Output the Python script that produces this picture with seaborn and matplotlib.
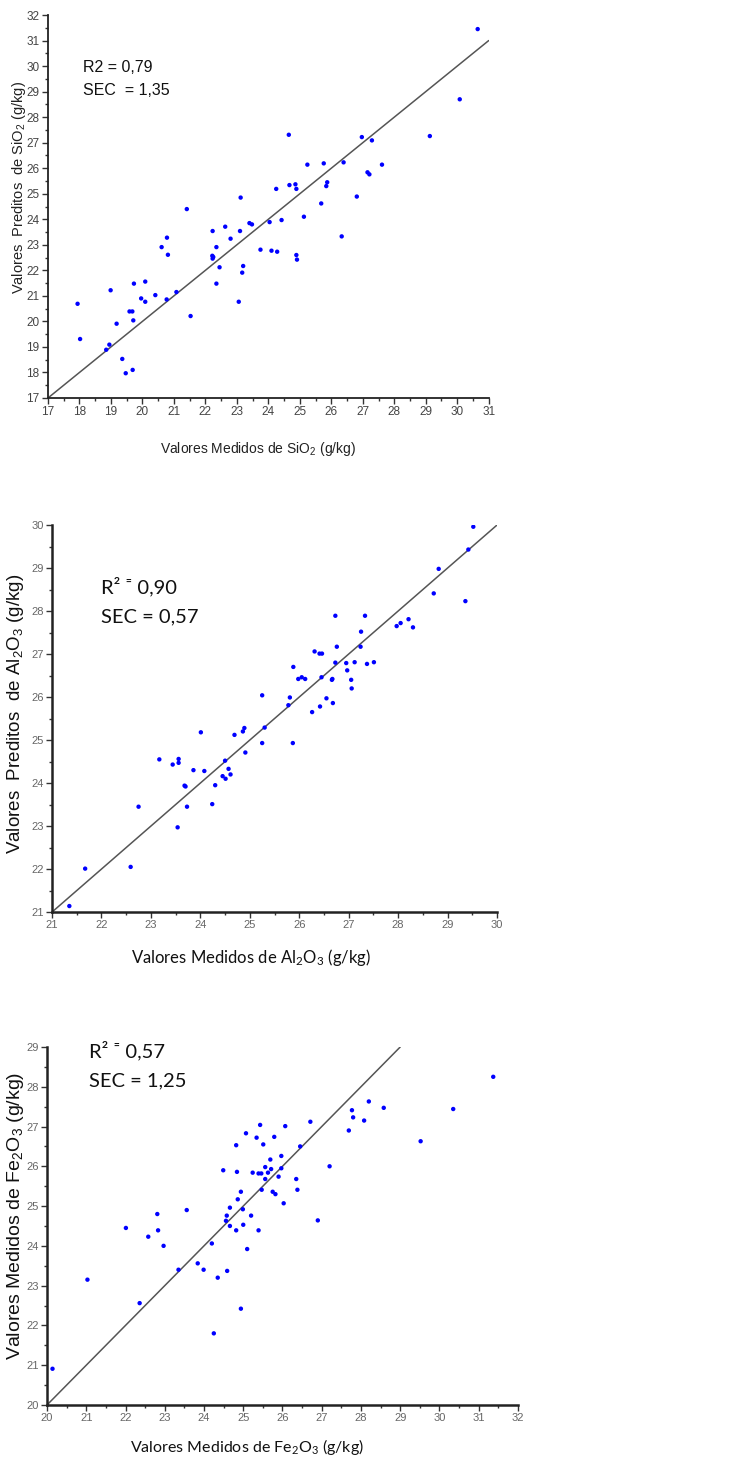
import numpy as np
import pandas as pd
import seaborn as sns
import matplotlib.pyplot as plt
from matplotlib.ticker import MultipleLocator

# SiO2 panel (measured, predicted)
sio2_med = [30.65, 30.08, 29.13, 24.65, 26.97, 27.29, 25.24, 25.76, 26.39, 27.61,
            27.15, 27.21, 24.67, 24.86, 24.89, 25.87, 25.84, 24.25, 25.68, 26.81,
            23.12, 21.41, 25.13, 24.42, 24.04, 23.40, 23.48, 22.63, 22.23, 23.10,
            22.80, 26.33, 20.78, 20.61, 22.35, 20.81, 22.22, 22.25, 22.23, 22.45,
            22.35, 23.75, 24.10, 24.28, 24.89, 24.91, 23.20, 23.17, 23.06, 21.53,
            21.08, 20.77, 20.41, 20.09, 20.09, 19.96, 19.73, 19.59, 19.68, 19.71,
            19.18, 18.99, 17.94, 18.02, 18.95, 18.85, 19.36, 19.47, 19.69]
sio2_pred = [31.45, 28.70, 27.26, 27.31, 27.22, 27.09, 26.14, 26.19, 26.23, 26.14,
             25.84, 25.76, 25.34, 25.37, 25.19, 25.45, 25.30, 25.19, 24.62, 24.89,
             24.85, 24.40, 24.10, 23.97, 23.89, 23.85, 23.80, 23.71, 23.54, 23.54,
             23.24, 23.33, 23.28, 22.91, 22.91, 22.61, 22.57, 22.52, 22.46, 22.12,
             21.48, 22.81, 22.77, 22.73, 22.60, 22.42, 22.17, 21.91, 20.77, 20.21,
             21.15, 20.86, 21.03, 21.56, 20.77, 20.90, 21.48, 20.39, 20.39, 20.04,
             19.91, 21.22, 20.69, 19.31, 19.09, 18.89, 18.53, 17.97, 18.10]

# Al2O3 panel
al2o3_med = [29.52, 29.42, 28.82, 28.72, 29.36, 26.73, 27.33, 27.97, 28.05, 28.21,
             28.30, 27.25, 26.76, 27.24, 26.31, 26.41, 26.46, 26.73, 26.95, 27.12,
             27.37, 27.51, 26.97, 27.05, 27.06, 25.88, 25.98, 26.05, 26.12, 26.45,
             26.66, 26.67, 26.55, 26.68, 26.42, 26.26, 25.81, 25.78, 25.25, 24.86,
             24.89, 25.30, 24.69, 24.01, 25.25, 25.87, 24.91, 23.17, 23.56, 23.56,
             23.44, 24.50, 23.86, 24.08, 24.57, 24.45, 24.51, 24.61, 24.30, 23.68,
             23.70, 22.75, 23.73, 24.24, 23.54, 22.59, 21.67, 21.35]
al2o3_pred = [29.96, 29.43, 28.98, 28.41, 28.23, 27.89, 27.89, 27.65, 27.72, 27.81,
              27.62, 27.52, 27.17, 27.17, 27.06, 27.01, 27.01, 26.80, 26.79, 26.81,
              26.77, 26.81, 26.62, 26.40, 26.20, 26.70, 26.42, 26.46, 26.42, 26.46,
              26.40, 26.42, 25.97, 25.86, 25.78, 25.65, 25.99, 25.81, 26.04, 25.20,
              25.28, 25.29, 25.12, 25.18, 24.93, 24.93, 24.71, 24.55, 24.56, 24.47,
              24.43, 24.52, 24.30, 24.28, 24.33, 24.16, 24.10, 24.20, 23.95, 23.94,
              23.92, 23.45, 23.45, 23.51, 22.97, 22.05, 22.01, 21.14]

# Fe2O3 panel
fe2o3_med = [31.37, 30.35, 29.52, 28.20, 28.58, 27.77, 27.80, 28.08, 27.69, 27.20,
             26.71, 26.45, 26.07, 25.43, 25.07, 25.34, 25.79, 24.82, 25.51, 25.97,
             25.69, 25.56, 25.71, 25.97, 25.63, 25.24, 25.39, 25.46, 24.84, 24.49,
             25.56, 25.90, 26.35, 26.38, 25.47, 25.75, 25.82, 24.94, 24.86, 26.03,
             24.66, 24.99, 24.58, 25.20, 24.56, 26.90, 22.81, 23.56, 22.01, 22.58,
             22.83, 22.97, 24.66, 24.82, 25.00, 25.39, 24.20, 25.10, 23.84, 23.99,
             23.35, 24.35, 24.59, 24.94, 24.25, 22.36, 21.03, 20.14]
fe2o3_pred = [28.25, 27.44, 26.63, 27.63, 27.47, 27.41, 27.23, 27.15, 26.90, 26.00,
              27.12, 26.50, 27.01, 27.04, 26.83, 26.72, 26.74, 26.53, 26.55, 26.26,
              26.17, 25.98, 25.93, 25.95, 25.84, 25.84, 25.82, 25.82, 25.86, 25.90,
              25.68, 25.74, 25.68, 25.41, 25.41, 25.36, 25.30, 25.36, 25.17, 25.07,
              24.96, 24.92, 24.76, 24.76, 24.63, 24.64, 24.80, 24.90, 24.45, 24.23,
              24.39, 24.00, 24.50, 24.39, 24.53, 24.39, 24.06, 23.92, 23.56, 23.40,
              23.40, 23.20, 23.37, 22.42, 21.80, 22.56, 23.15, 20.91]

# 1:1 reference lines
sio2_line = [17, 31]
al2o3_line = [21, 30]
fe2o3_line = [20, 29]

sns.set_theme(style="white")
plt.rcParams["mathtext.default"] = "regular"

NARROW = ["Liberation Sans", "DejaVu Sans"]
CALI = ["Lato", "DejaVu Sans"]
ARIAL = ["Liberation Sans", "DejaVu Sans"]

fig = plt.figure(figsize=(7.37, 14.6), dpi=100)
ax1 = fig.add_axes([0.0651, 0.7274, 0.598, 0.2623])
ax2 = fig.add_axes([0.0706, 0.3753, 0.6038, 0.2651])
ax3 = fig.add_axes([0.0638, 0.0377, 0.6390, 0.2452])


def draw(ax, xs, ys, line, xlim, ylim, spine_w, tick_color, tick_size):
    df = pd.DataFrame({"x": xs, "y": ys})
    sns.lineplot(x=line, y=line, ax=ax, color="#555555", linewidth=1.1)
    sns.scatterplot(data=df, x="x", y="y", ax=ax, color="#0000ff", s=10,
                    edgecolor="none", zorder=3)
    ax.set_xlim(*xlim)
    ax.set_ylim(*ylim)
    ax.xaxis.set_major_locator(MultipleLocator(1))
    ax.yaxis.set_major_locator(MultipleLocator(1))
    ax.xaxis.set_minor_locator(MultipleLocator(0.5))
    ax.yaxis.set_minor_locator(MultipleLocator(0.5))
    ax.tick_params(which="major", direction="out", length=4, width=1,
                   color="#333333", labelcolor=tick_color, labelsize=tick_size,
                   pad=2, bottom=True, left=True)
    ax.tick_params(which="minor", direction="out", length=2.5, width=1,
                   color="#333333", bottom=True, left=True)
    for lab in ax.get_xticklabels() + ax.get_yticklabels():
        lab.set_family(NARROW)
    sns.despine(ax=ax)
    for sp in ("left", "bottom"):
        ax.spines[sp].set_color("#222222")
        ax.spines[sp].set_linewidth(spine_w)
    ax.set_xlabel("")
    ax.set_ylabel("")


draw(ax1, sio2_med, sio2_pred, sio2_line, (17, 31), (17, 32), 1.3, "#444444", 8.5)
draw(ax2, al2o3_med, al2o3_pred, al2o3_line, (21, 30), (21, 30), 1.8, "#666666", 8)
draw(ax3, fe2o3_med, fe2o3_pred, fe2o3_line, (20, 32), (20, 29), 1.8, "#666666", 8)

# annotations
ax1.text(0.08, 0.862, "R2 = 0,79", transform=ax1.transAxes, family=NARROW,
         fontsize=11.5, va="center", color="#111111")
ax1.text(0.08, 0.804, "SEC  = 1,35", transform=ax1.transAxes, family=NARROW,
         fontsize=11.5, va="center", color="#111111")
ax2.text(0.11, 0.84, "R² ⁼ 0,90", transform=ax2.transAxes, family=CALI,
         fontsize=14.5, va="center", color="#111111")
ax2.text(0.11, 0.762, "SEC = 0,57", transform=ax2.transAxes, family=CALI,
         fontsize=14.5, va="center", color="#111111")
ax3.text(0.09, 0.99, "R² ⁼ 0,57", transform=ax3.transAxes, family=CALI,
         fontsize=14.5, va="center", color="#111111")
ax3.text(0.09, 0.905, "SEC = 1,25", transform=ax3.transAxes, family=CALI,
         fontsize=14.5, va="center", color="#111111")

# axis titles
fig.text(258 / 737, 1 - 449 / 1460, "Valores Medidos de SiO$_2$ (g/kg)",
         family=NARROW, fontsize=10, ha="center", va="center", color="#222222")
fig.text(19 / 737, 1 - 188 / 1460, "Valores  Preditos  de SiO$_2$ (g/kg)",
         family=NARROW, fontsize=10.5, rotation=90, ha="center", va="center",
         color="#222222")
fig.text(251 / 737, 1 - 958 / 1460, "Valores Medidos de Al$_2$O$_3$ (g/kg)",
         family=CALI, fontsize=12, ha="center", va="center", color="#111111")
fig.text(16 / 737, 1 - 714 / 1460, "Valores  Preditos  de Al$_2$O$_3$ (g/kg)",
         family=ARIAL, fontsize=13.5, rotation=90, ha="center", va="center",
         color="#111111")
fig.text(247 / 737, 1 - 1447 / 1460, "Valores Medidos de Fe$_2$O$_3$ (g/kg)",
         family=CALI, fontsize=11.5, ha="center", va="center", color="#111111")
fig.text(16 / 737, 1 - 1216 / 1460, "Valores Medidos de Fe$_2$O$_3$ (g/kg)",
         family=ARIAL, fontsize=14, rotation=90, ha="center", va="center",
         color="#111111")

fig.savefig("out.png", dpi=100)
